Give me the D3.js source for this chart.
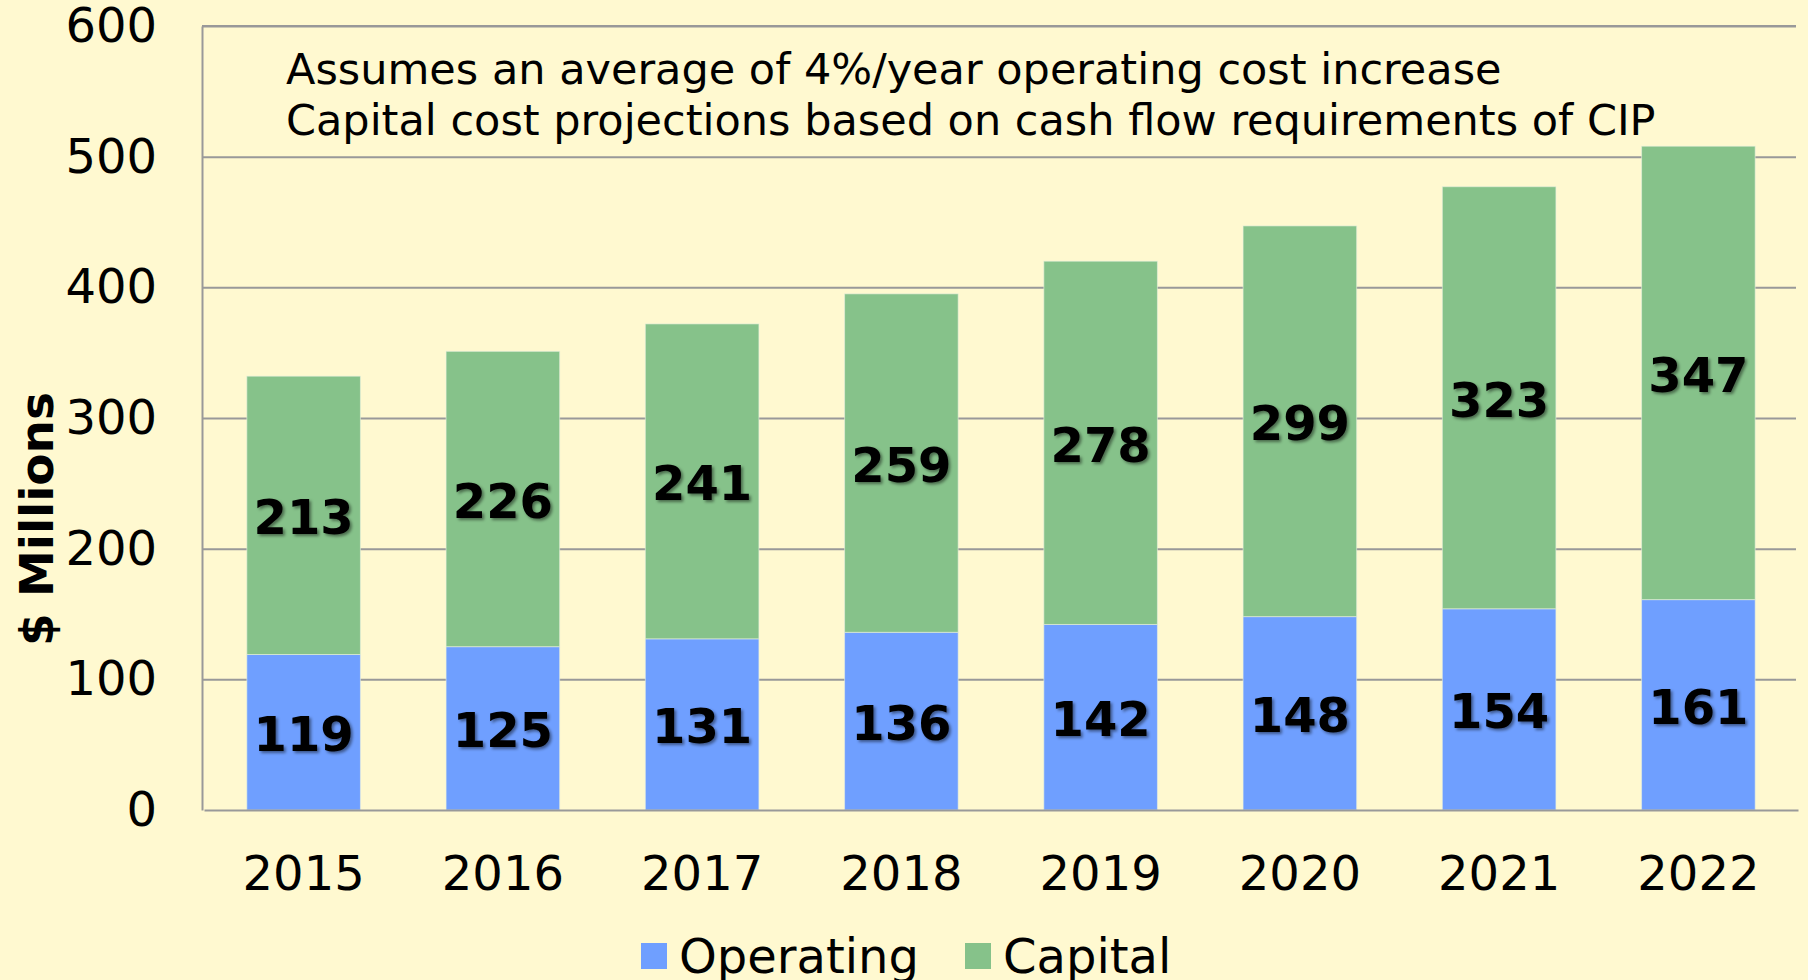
<html>
<head>
<script src="https://d3js.org/d3.v7.min.js"></script>
<style>
body { margin: 0; background: #fff9d0; }
text { font-family: "DejaVu Sans", Verdana, sans-serif; }
</style>
</head>
<body>
<svg id="chart" width="1808" height="980"></svg>
<script>
const years = ['2015', '2016', '2017', '2018', '2019', '2020', '2021', '2022'];
const operating = [119, 125, 131, 136, 142, 148, 154, 161];
const capital = [213, 226, 241, 259, 278, 299, 323, 347];
const yTicks = [0, 100, 200, 300, 400, 500, 600];
const seriesNames = ['Operating', 'Capital'];
const colors = ['#6f9fff', '#86c28a'];
const notes = ['Assumes an average of 4%/year operating cost increase',
               'Capital cost projections based on cash flow requirements of CIP'];

const svg = d3.select('svg#chart');
const margins = {top: 26, right: 12, bottom: 170, left: 202};
const width = 1808, height = 980;
const chartWidth = width - margins.left - margins.right;
const chartHeight = height - margins.top - margins.bottom;

svg.append('rect').attr('width', width).attr('height', height).attr('fill', '#fff9d0');

const defs = svg.append('defs');
const shadow = defs.append('filter').attr('id', 'shadow')
    .attr('x', '-20%').attr('y', '-20%').attr('width', '140%').attr('height', '140%');
shadow.append('feDropShadow').attr('dx', 2).attr('dy', 2).attr('stdDeviation', 1.5)
    .attr('flood-color', '#000').attr('flood-opacity', 0.45);

const x = d3.scaleBand().domain(years).range([2, chartWidth + 2]).paddingInner(0.43).paddingOuter(0.215);
const y = d3.scaleLinear().domain([0, 600]).range([chartHeight, 0]);

const g = svg.append('g').attr('transform', `translate(${margins.left},${margins.top})`);

// gridlines
g.append('g').attr('class', 'grid')
    .call(d3.axisLeft(y).tickValues(yTicks.slice(1)).tickSize(-chartWidth).tickFormat(''))
    .call(s => s.select('.domain').remove())
    .call(s => s.selectAll('line').attr('stroke', '#999').attr('stroke-width', 2));

const rows = years.map((yr, i) => ({year: yr, Operating: operating[i], Capital: capital[i]}));
const stacked = d3.stack().keys(seriesNames)(rows);

stacked.forEach((layer, k) => {
    g.append('g').selectAll('rect').data(layer).join('rect')
        .attr('x', d => x(d.data.year))
        .attr('y', d => y(d[1]))
        .attr('width', x.bandwidth())
        .attr('height', d => y(d[0]) - y(d[1]))
        .attr('fill', colors[k])
        .attr('stroke', '#e8f0e0').attr('stroke-width', 1).attr('stroke-opacity', 0.6);
});

stacked.forEach((layer, k) => {
    g.append('g').selectAll('text').data(layer).join('text')
        .attr('x', d => x(d.data.year) + x.bandwidth() / 2)
        .attr('y', d => (y(d[0]) + y(d[1])) / 2 + 2)
        .attr('text-anchor', 'middle')
        .attr('dominant-baseline', 'central')
        .attr('font-size', 48)
        .attr('font-weight', 'bold')
        .attr('filter', 'url(#shadow)')
        .text(d => d[1] - d[0]);
});

// axes
const yAxis = g.append('g')
    .call(d3.axisLeft(y).tickValues(yTicks).tickSize(0).tickPadding(45));
yAxis.select('.domain').attr('stroke', '#999').attr('stroke-width', 2);
yAxis.selectAll('text').attr('font-size', 48).attr('fill', '#000')
    .style('font-family', '"DejaVu Sans", Verdana, sans-serif');

const xAxis = g.append('g').attr('transform', `translate(0,${chartHeight})`)
    .call(d3.axisBottom(x).tickSize(0).tickPadding(46));
xAxis.select('.domain').attr('stroke', '#999').attr('stroke-width', 2);
xAxis.selectAll('text').attr('font-size', 48).attr('fill', '#000')
    .style('font-family', '"DejaVu Sans", Verdana, sans-serif');

g.append('line').attr('x1', 0).attr('x2', chartWidth).attr('y1', 0).attr('y2', 0)
    .attr('stroke', '#999').attr('stroke-width', 2);

// notes
svg.append('g').selectAll('text').data(notes).join('text')
    .attr('x', 286)
    .attr('y', (d, i) => 84 + i * 51)
    .attr('font-size', 43)
    .text(d => d);

// y label
svg.append('text')
    .attr('transform', 'translate(53,519) rotate(-90)')
    .attr('text-anchor', 'middle')
    .attr('font-size', 47)
    .attr('font-weight', 'bold')
    .text('$ Millions');

// legend
const legendX = [641, 965];
const legend = svg.append('g');
seriesNames.forEach((name, i) => {
    legend.append('rect').attr('x', legendX[i]).attr('y', 943)
        .attr('width', 26).attr('height', 26).attr('fill', colors[i]);
    legend.append('text').attr('x', legendX[i] + 38).attr('y', 973)
        .attr('font-size', 48).text(name);
});
</script>
</body>
</html>
